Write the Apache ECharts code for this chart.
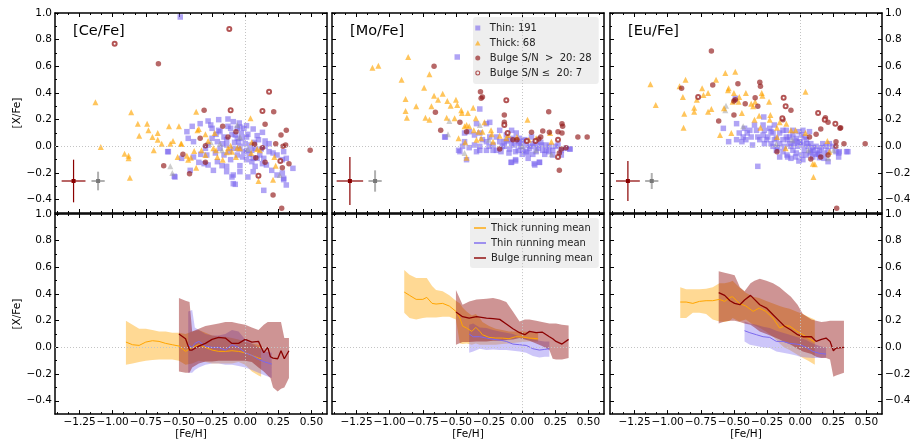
<!DOCTYPE html>
<html><head><meta charset="utf-8">
<script src="https://cdn.jsdelivr.net/npm/echarts@6/dist/echarts.min.js"></script>
<style>html,body{margin:0;padding:0;background:#fff}#c{width:914px;height:441px}</style>
</head><body><div id="c"></div>
<script>
// ---------- labels ----------
const panelTitles = ['[Ce/Fe]', '[Mo/Fe]', '[Eu/Fe]'];
const xTickValues = [-1.25, -1.0, -0.75, -0.5, -0.25, 0.0, 0.25, 0.5];
const yTickValues = [-0.4, -0.2, 0.0, 0.2, 0.4, 0.6, 0.8, 1.0];
const legendTop = ['Thin: 191', 'Thick: 68', 'Bulge S/N  >  20: 28', 'Bulge S/N \u2264  20: 7'];
const legendBottom = ['Thick running mean', 'Thin running mean', 'Bulge running mean'];

// ---------- [Ce/Fe] scatter ----------
const ceThin = [[-0.44,0.11],[-0.40,0.15],[-0.43,0.06],[-0.39,0.035],[-0.34,0.17],[-0.28,0.19],[-0.26,0.16],[-0.20,0.20],[-0.13,0.205],[-0.09,0.185],[-0.045,0.175],[-0.04,0.145],[0.01,0.155],[0.06,0.13],[0.13,0.105],[0.15,0.04],
[-0.28,0.01],[-0.25,0.06],[-0.21,0.035],[-0.19,0.11],[-0.16,0.07],[-0.14,0.05],[-0.11,0.135],[-0.075,0.085],[-0.05,0.035],[-0.025,0.06],[0.01,0.07],[0.04,0.01],[0.075,-0.015],[0.11,-0.065],[0.14,-0.09],[0.18,-0.04],[0.21,-0.05],[0.24,-0.065],[0.29,-0.04],[0.31,-0.09],[0.36,-0.165],[0.28,-0.10],[0.29,-0.24],[0.31,-0.29],[0.28,-0.20],[0.14,-0.33],[-0.075,-0.285],[-0.09,-0.215],[0.02,-0.23],[0.075,-0.15],[-0.04,-0.145],[-0.14,-0.15],[-0.175,-0.145],[-0.21,-0.115],[-0.24,-0.18],[-0.28,-0.14],[-0.31,-0.13],[-0.35,-0.12],[-0.39,-0.08],[-0.415,-0.18],[-0.48,-0.09],[-0.58,-0.04],[-0.53,-0.23],[-0.335,-0.06],[-0.30,-0.015],[-0.16,-0.065],[-0.11,-0.10],[-0.06,-0.065],[-0.01,-0.04],[0.01,-0.10],[0.05,-0.115],[0.09,-0.09],[0.13,-0.13],[0.16,-0.14],[0.20,-0.18],[-0.14,0.01],[-0.19,-0.015],[-0.225,-0.05],[-0.29,-0.065],[-0.09,-0.015],[-0.04,0.0],[0.01,-0.03],[0.10,0.05],[-0.10,-0.23],[-0.14,-0.19],[-0.04,-0.19],[0.06,-0.19],[-0.01,0.135],[-0.06,0.135],[-0.13,0.15],[-0.20,0.12],[-0.25,0.135],[0.24,-0.215],
[-0.05,-0.02],[0.0,0.02],[0.03,-0.06],[-0.08,0.03],[-0.02,-0.08],[0.07,0.03],[0.12,-0.02],[-0.12,-0.04],[-0.17,0.02],[-0.22,0.09],[0.02,0.09],[0.09,0.08],[-0.06,0.06],[-0.10,0.09],[0.05,-0.03],[-0.03,0.10],[0.15,0.0],[0.18,0.02],[0.06,-0.09],
[-0.49,0.97],[-0.585,-0.04],[-0.535,-0.225],[-0.09,-0.28],[0.29,-0.25]];
const ceThick = [[-1.13,0.33],[-1.09,-0.005],[-0.91,-0.055],[-0.88,-0.07],[-0.88,-0.09],[-0.87,-0.235],[-0.86,0.255],[-0.81,0.17],[-0.80,0.08],[-0.74,0.17],[-0.73,0.12],[-0.70,0.07],[-0.69,-0.03],[-0.66,0.10],[-0.66,0.05],[-0.63,0.02],[-0.575,0.15],[-0.565,0.02],[-0.545,0.04],[-0.50,0.15],[-0.485,0.02],[-0.51,-0.08],
[-0.37,0.26],[-0.35,0.13],[-0.30,0.09],[-0.23,0.10],[-0.48,0.02],[-0.44,-0.07],[-0.43,-0.10],[-0.41,-0.085],[-0.385,-0.035],[-0.37,-0.16],[-0.24,-0.015],[-0.22,-0.03],[-0.21,-0.08],[-0.17,-0.10],[-0.14,-0.045],[-0.13,-0.015],[-0.11,0.005],[-0.10,-0.04],[-0.06,-0.01],[-0.04,-0.015],[-0.07,-0.08],[0.04,0.21],[0.05,0.03],[0.045,-0.05],[0.09,-0.02],[0.11,-0.03],[0.22,-0.08],[0.23,-0.145],[0.21,-0.25],[0.10,-0.26],[-0.33,-0.03],[-0.30,-0.065],[-0.36,0.12],[-0.28,0.04]];
const ceBulge = [[-0.655,0.62],[-0.31,0.27],[0.215,0.26],[0.15,0.165],[0.31,0.12],[0.27,0.085],[0.23,0.02],[0.305,0.01],[0.285,0.0],[0.07,0.015],[0.13,-0.01],[-0.17,0.15],[-0.13,0.07],[-0.07,0.11],[-0.34,0.06],[-0.30,0.005],[-0.47,-0.06],[-0.615,-0.145],[-0.42,-0.205],[-0.30,-0.12],[0.08,-0.085],[0.15,-0.12],[0.33,-0.13],[0.28,-0.16],[0.49,-0.03],[0.21,-0.365],[0.275,-0.465]];
const ceBulgeLow = [[-0.985,0.77],[-0.12,0.88],[0.18,0.41],[-0.11,0.27],[0.13,0.265],[0.265,-0.11],[0.10,-0.22]];
const ceOther = [[-0.565,-0.15],[-0.55,-0.20],[-0.06,0.16],[0.26,-0.215],[-0.175,-0.03],[-0.26,0.03],[-0.19,0.02],[-0.04,0.07],[0.02,-0.02]];

// ---------- [Mo/Fe] scatter ----------
const moThin = [[-0.49,0.67],[-0.58,0.07],[-0.08,-0.12],[-0.05,-0.11],[0.09,-0.13],[0.13,-0.12],[0.36,-0.02],
[-0.32,0.28],[-0.585,0.07],[-0.48,-0.03],[-0.42,-0.10],[-0.435,0.10],[-0.40,0.11],[-0.36,0.085],[-0.32,0.10],[-0.27,0.17],[-0.245,0.18],[-0.345,0.17],[-0.435,0.035],[-0.36,0.01],[-0.32,-0.03],[-0.27,0.035],[-0.22,0.01],[-0.195,-0.03],[-0.17,0.035],[-0.135,0.0],[-0.12,0.085],[-0.08,0.12],[-0.07,0.06],[-0.045,0.10],[-0.03,0.035],[-0.01,0.0],[0.005,-0.03],[0.03,0.01],[0.055,-0.015],[0.08,0.02],[0.12,-0.015],[0.155,-0.03],[0.18,0.01],[0.23,-0.03],[0.27,0.01],[0.295,-0.03],[0.33,-0.015],[0.36,-0.02],[0.295,-0.065],[0.23,-0.065],[0.17,-0.06],[0.08,-0.06],[0.045,-0.09],[0.095,-0.14],[0.13,-0.12],[-0.05,-0.10],[-0.085,-0.12],[-0.06,0.01],[-0.095,-0.02],[-0.16,-0.04],[-0.22,-0.03],[-0.27,-0.03],[-0.32,0.0],[-0.40,-0.01],[-0.45,0.0],[-0.47,-0.04],[-0.345,-0.04],[-0.245,0.07],[-0.195,0.07],[-0.17,0.12],[-0.135,0.035],[-0.095,0.05],[-0.02,0.06],[0.02,0.05],[0.07,0.07],[0.105,0.035],[0.145,0.01],[0.205,0.0],[-0.03,-0.03],[0.03,-0.04],[0.105,-0.04],[0.18,-0.03],
[-0.02,0.02],[0.01,0.04],[0.06,0.0],[-0.08,0.02],[-0.12,0.04],[0.1,0.0],[0.14,0.03],[-0.05,-0.04],[0.04,-0.05],[-0.15,0.0],[-0.25,0.0],[-0.3,0.05],[0.2,-0.04],[0.25,0.0],[0.0,-0.06],[-0.1,-0.05]];
const moThick = [[-1.13,0.59],[-1.085,0.605],[-0.86,0.67],[-0.91,0.50],[-0.74,0.44],[-0.70,0.54],[-0.88,0.355],[-0.88,0.265],[-0.87,0.215],[-0.80,0.30],[-0.73,0.215],[-0.70,0.20],[-0.665,0.38],[-0.635,0.35],[-0.60,0.395],[-0.685,0.30],
[-0.565,0.34],[-0.54,0.305],[-0.50,0.35],[-0.49,0.31],[-0.46,0.27],[-0.455,0.25],[-0.41,0.25],[-0.51,0.21],[-0.57,0.215],[-0.37,0.29],[-0.35,0.21],[-0.435,0.15],[-0.40,0.15],[-0.365,0.12],[-0.33,0.11],[-0.285,0.18],[-0.30,0.11],[-0.235,0.12],[-0.23,0.09],[-0.31,0.06],[-0.345,0.05],[-0.43,0.03],[-0.48,0.06],[-0.42,-0.085],[-0.22,0.035],[-0.17,0.08],[-0.12,0.06],[-0.105,0.085],[-0.04,0.07],[0.04,0.20],[0.05,0.05],[0.105,0.06],[0.21,0.10],[0.22,0.035],[-0.42,0.16]];
const moBulge = [[-0.665,0.60],[-0.315,0.41],[-0.30,0.37],[-0.31,0.36],[-0.655,0.255],[-0.615,0.12],[-0.47,0.18],[-0.42,0.11],[-0.135,0.235],[-0.135,0.18],[-0.07,0.05],[-0.04,0.05],[-0.17,-0.02],[0.07,0.105],[0.125,0.055],[0.14,0.07],[0.155,0.115],[0.20,0.26],[0.205,0.105],[0.27,0.11],[0.30,0.17],[0.305,0.15],[0.30,0.10],[0.295,-0.02],[0.28,-0.05],[0.33,-0.01],[0.42,0.07],[0.49,0.07],[0.28,-0.18]];
const moBulgeLow = [[-0.12,0.345],[-0.135,0.16],[-0.11,0.10],[0.035,0.04],[0.10,0.04],[0.27,0.05],[0.27,-0.08]];
const moOther = [[-0.55,0.19],[-0.56,0.09],[-0.435,-0.05],[-0.32,0.16],[0.105,-0.03],[0.22,-0.06],[-0.25,0.05],[0.0,0.0]];

// ---------- [Eu/Fe] scatter ----------
const euThin = [[-0.49,0.36],[-0.48,0.17],[-0.58,0.135],[-0.54,0.035],[-0.44,0.035],[-0.37,0.07],[-0.36,0.01],[-0.32,-0.15],[-0.275,0.22],[-0.345,0.16],[-0.28,0.085],[-0.23,0.135],[-0.205,0.10],[-0.255,0.05],[-0.38,0.12],[-0.42,0.135],[-0.46,0.10],[-0.43,0.07],[-0.32,0.07],[-0.22,0.02],[-0.195,0.05],[-0.155,0.10],[-0.13,0.12],[-0.105,0.07],[-0.095,0.05],[-0.055,0.085],[-0.03,0.06],[-0.01,0.11],[0.01,0.085],[-0.005,0.035],[0.02,0.01],[0.045,0.05],[0.06,0.0],[0.08,0.02],[0.095,-0.03],[0.12,0.0],[0.145,-0.03],[0.16,-0.01],[0.18,-0.05],[0.21,-0.03],[0.245,0.0],[0.295,-0.04],[0.29,-0.08],[0.35,-0.04],[0.145,-0.085],[0.115,-0.06],[-0.03,-0.05],[-0.055,-0.03],[-0.10,-0.065],[-0.13,-0.04],[-0.155,-0.08],[-0.17,-0.01],[-0.155,0.02],[-0.13,0.05],[-0.08,0.02],[-0.07,0.0],[-0.045,0.02],[-0.02,0.0],[0.03,-0.03],[0.01,-0.065],[0.045,-0.065],[0.02,-0.10],[-0.01,-0.11],[0.075,-0.05],[0.095,-0.08],[0.13,-0.05],[0.17,0.02],[0.195,0.0],[0.22,0.02],[-0.055,0.12],[0.02,0.12],[0.07,0.11],[-0.22,0.11],[-0.27,0.12],[-0.33,0.12],[-0.40,0.10],[-0.41,0.05],[-0.48,0.05],[-0.105,0.12],[-0.08,0.07],[-0.18,-0.03],[-0.205,0.0],[-0.27,0.02],[-0.305,0.05],[-0.245,0.07],[-0.035,-0.08],[-0.07,-0.09],[-0.095,-0.08],[0.18,-0.09],[0.21,-0.115],[0.29,-0.05],[0.27,-0.04],[-0.28,0.16],[-0.195,0.16],[0.36,-0.04],
[0.0,0.03],[0.05,0.02],[0.1,-0.01],[-0.04,0.04],[0.03,0.07],[0.08,-0.04],[-0.12,0.0],[0.14,-0.06],[-0.18,0.06]];
const euThick = [[-1.13,0.465],[-1.09,0.31],[-0.88,0.14],[-0.875,0.245],[-0.885,0.37],[-0.865,0.50],[-0.91,0.45],[0.10,-0.23],[0.11,-0.135],
[-0.80,0.29],[-0.80,0.26],[-0.78,0.35],[-0.74,0.435],[-0.73,0.385],[-0.695,0.40],[-0.695,0.26],[-0.67,0.28],[-0.635,0.50],[-0.605,0.085],[-0.575,0.285],[-0.565,0.55],[-0.54,0.435],[-0.545,0.42],[-0.52,0.10],[-0.51,0.335],[-0.49,0.56],[-0.50,0.40],[-0.46,0.37],[-0.465,0.335],[-0.44,0.25],[-0.41,0.40],[-0.37,0.32],[-0.355,0.30],[-0.34,0.335],[-0.345,0.20],[-0.31,0.23],[-0.29,0.40],[-0.285,0.38],[-0.235,0.335],[-0.225,0.235],[-0.23,0.20],[-0.30,0.14],[-0.175,0.14],[-0.155,0.18],[-0.105,0.17],[-0.07,0.12],[-0.035,0.12],[0.04,0.41],[0.04,0.10],[0.095,-0.13],[0.205,0.04],[0.22,-0.04],[-0.11,-0.015],[-0.175,0.07]];
const euBulge = [[-0.67,0.715],[-0.895,0.435],[-0.66,0.46],[-0.47,0.47],[-0.615,0.19],[-0.50,0.34],[-0.49,0.35],[-0.415,0.32],[-0.34,0.365],[-0.32,0.30],[-0.305,0.48],[-0.30,0.45],[-0.50,0.235],[-0.13,0.20],[-0.07,0.27],[0.07,0.07],[0.12,0.09],[0.155,0.13],[0.19,0.215],[0.21,0.18],[0.30,0.135],[0.305,0.14],[0.27,0.035],[0.33,0.02],[0.49,0.02],[-0.175,-0.04],[0.08,-0.095],[0.155,-0.08],[0.21,-0.065],[0.27,0.0],[0.275,-0.465]];
const euBulgeLow = [[-0.77,0.37],[-0.125,0.365],[-0.11,0.30],[-0.135,0.21],[0.135,0.25],[0.185,0.20],[0.265,0.17]];
const euOther = [[-0.56,0.305],[-0.565,0.27],[-0.18,0.02],[-0.06,0.05],[0.06,-0.03],[0.21,-0.09],[0.25,-0.03],[-0.43,0.15]];

// ---------- typical error bars [x, y, xerr, yerr] ----------
const errBulge = [[-1.295,-0.26,0.09,0.16],[-1.30,-0.26,0.10,0.18],[-1.30,-0.26,0.09,0.15]];
const errDisk = [[-1.11,-0.26,0.05,0.07],[-1.11,-0.26,0.05,0.08],[-1.12,-0.26,0.05,0.06]];

// ---------- running means: [Ce/Fe] ----------
const ceThickX = [-0.90,-0.85,-0.80,-0.75,-0.70,-0.65,-0.60,-0.55,-0.50,-0.45,-0.40,-0.35,-0.30,-0.25,-0.20,-0.15,-0.10,-0.05,0.00,0.05,0.10,0.12];
const ceThickMean = [0.04,0.02,0.015,0.04,0.05,0.045,0.03,0.02,0.01,-0.03,0.0,0.02,0.0,-0.02,-0.03,-0.03,-0.025,-0.03,-0.04,-0.06,-0.08,-0.085];
const ceThickHi = [0.20,0.17,0.14,0.14,0.13,0.12,0.12,0.11,0.11,0.10,0.12,0.13,0.11,0.09,0.08,0.08,0.07,0.06,0.04,0.03,0.02,0.02];
const ceThickLo = [-0.13,-0.12,-0.11,-0.10,-0.095,-0.09,-0.09,-0.09,-0.10,-0.13,-0.12,-0.10,-0.11,-0.12,-0.12,-0.12,-0.12,-0.11,-0.13,-0.18,-0.21,-0.22];
const ceThinX = [-0.43,-0.40,-0.38,-0.35,-0.30,-0.25,-0.20,-0.15,-0.10,-0.05,0.00,0.05,0.10,0.15,0.20];
const ceThinMean = [0.02,0.0,0.03,0.045,0.01,0.0,0.0,-0.02,0.02,0.0,-0.04,-0.06,-0.09,-0.11,-0.125];
const ceThinHi = [0.27,0.28,0.15,0.13,0.10,0.09,0.09,0.10,0.13,0.12,0.06,0.03,0.0,-0.03,-0.04];
const ceThinLo = [-0.19,-0.19,-0.17,-0.15,-0.13,-0.12,-0.12,-0.13,-0.13,-0.14,-0.15,-0.17,-0.19,-0.21,-0.23];
const ceBulgeX = [-0.50,-0.45,-0.42,-0.40,-0.35,-0.30,-0.25,-0.20,-0.15,-0.10,-0.05,0.00,0.05,0.10,0.14,0.17,0.19,0.21,0.245,0.27,0.295,0.33];
const ceBulgeMean = [0.10,0.065,-0.02,-0.02,0.01,0.03,0.06,0.075,0.07,0.03,0.03,0.06,0.04,0.045,-0.04,0.0,-0.07,-0.08,-0.085,-0.025,-0.085,-0.025];
const ceBulgeHi = [0.37,0.35,0.34,0.12,0.14,0.16,0.17,0.18,0.19,0.19,0.18,0.17,0.15,0.13,0.17,0.19,0.19,0.19,0.19,0.19,0.07,0.07];
const ceBulgeLo = [-0.18,-0.19,-0.19,-0.15,-0.12,-0.105,-0.105,-0.10,-0.10,-0.10,-0.10,-0.10,-0.11,-0.15,-0.18,-0.21,-0.23,-0.30,-0.33,-0.31,-0.30,-0.23];

// ---------- running means: [Mo/Fe] ----------
const moThickX = [-0.89,-0.85,-0.80,-0.75,-0.72,-0.68,-0.65,-0.60,-0.55,-0.50,-0.47,-0.45,-0.42,-0.38,-0.35,-0.32,-0.30,-0.25,-0.20,-0.15,-0.10,-0.05,0.00,0.05,0.12];
const moThickMean = [0.415,0.39,0.36,0.36,0.375,0.33,0.325,0.33,0.31,0.27,0.22,0.16,0.145,0.12,0.15,0.12,0.095,0.075,0.07,0.07,0.065,0.08,0.078,0.07,0.065];
const moThickHi = [0.58,0.545,0.52,0.52,0.52,0.46,0.43,0.42,0.39,0.35,0.33,0.30,0.27,0.24,0.25,0.22,0.19,0.16,0.14,0.13,0.12,0.12,0.12,0.115,0.11];
const moThickLo = [0.26,0.22,0.21,0.22,0.225,0.225,0.225,0.23,0.23,0.21,0.03,0.025,0.03,0.02,0.03,0.02,0.02,0.02,0.02,0.025,0.03,0.035,0.04,0.045,0.045];
const moThinX = [-0.40,-0.37,-0.32,-0.27,-0.22,-0.17,-0.12,-0.07,-0.02,0.03,0.08,0.13,0.17,0.205];
const moThinMean = [0.10,0.08,0.08,0.07,0.06,0.055,0.045,0.025,0.02,0.015,-0.01,-0.02,-0.015,-0.01];
const moThinHi = [0.17,0.18,0.15,0.145,0.13,0.12,0.11,0.10,0.08,0.07,0.06,0.05,0.045,0.045];
const moThinLo = [-0.04,-0.03,-0.01,-0.02,-0.015,-0.02,-0.02,-0.025,-0.03,-0.04,-0.065,-0.075,-0.07,-0.07];
const moBulgeX = [-0.50,-0.45,-0.40,-0.345,-0.27,-0.22,-0.17,-0.12,-0.07,-0.02,0.02,0.055,0.105,0.15,0.205,0.23,0.255,0.30,0.35];
const moBulgeMean = [0.265,0.23,0.22,0.23,0.22,0.215,0.21,0.175,0.14,0.11,0.095,0.12,0.11,0.115,0.08,0.065,0.045,0.025,0.06];
const moBulgeHi = [0.43,0.32,0.345,0.36,0.365,0.37,0.36,0.34,0.27,0.195,0.21,0.21,0.20,0.19,0.18,0.18,0.18,0.17,0.165];
const moBulgeLo = [0.02,0.04,0.04,0.045,0.045,0.05,0.05,0.055,0.06,0.07,0.06,0.05,0.03,0.01,-0.02,-0.085,-0.09,-0.09,-0.08];

// ---------- running means: [Eu/Fe] ----------
const euThickX = [-0.905,-0.86,-0.81,-0.76,-0.71,-0.66,-0.61,-0.57,-0.53,-0.51,-0.46,-0.41,-0.355,-0.31,-0.26,-0.205,-0.155,-0.12,-0.08,-0.03,0.02,0.06,0.11];
const euThickMean = [0.34,0.34,0.33,0.345,0.35,0.35,0.36,0.345,0.375,0.38,0.33,0.31,0.27,0.295,0.27,0.22,0.145,0.16,0.16,0.125,0.095,0.07,0.04];
const euThickHi = [0.45,0.435,0.435,0.435,0.44,0.45,0.48,0.48,0.49,0.50,0.45,0.41,0.38,0.37,0.35,0.33,0.31,0.30,0.29,0.27,0.25,0.23,0.21];
const euThickLo = [0.22,0.22,0.26,0.26,0.25,0.21,0.195,0.19,0.20,0.22,0.195,0.21,0.17,0.15,0.12,0.08,0.03,0.0,-0.02,-0.05,-0.08,-0.10,-0.13];
const euThinX = [-0.42,-0.38,-0.33,-0.28,-0.23,-0.18,-0.13,-0.08,-0.03,0.0,0.045,0.095,0.145,0.195];
const euThinMean = [0.125,0.11,0.095,0.08,0.075,0.045,0.045,0.03,0.025,0.02,0.0,-0.03,-0.045,-0.05];
const euThinHi = [0.195,0.18,0.17,0.155,0.145,0.125,0.11,0.095,0.08,0.07,0.055,0.03,0.01,0.0];
const euThinLo = [0.045,0.02,0.01,0.0,-0.005,-0.03,-0.04,-0.05,-0.06,-0.07,-0.075,-0.08,-0.08,-0.075];
const euBulgeX = [-0.615,-0.57,-0.53,-0.495,-0.455,-0.42,-0.375,-0.345,-0.305,-0.255,-0.205,-0.155,-0.12,-0.07,-0.02,0.02,0.085,0.12,0.16,0.195,0.225,0.25,0.27,0.33];
const euBulgeMean = [0.41,0.39,0.35,0.33,0.32,0.355,0.39,0.36,0.32,0.295,0.245,0.195,0.16,0.13,0.095,0.08,0.08,0.045,0.06,0.07,0.045,-0.025,-0.005,0.0];
const euBulgeHi = [0.57,0.56,0.55,0.54,0.45,0.42,0.48,0.50,0.515,0.50,0.48,0.45,0.42,0.38,0.32,0.25,0.21,0.20,0.19,0.195,0.20,0.20,0.20,0.20];
const euBulgeLo = [0.18,0.195,0.20,0.20,0.19,0.18,0.17,0.15,0.12,0.10,0.08,0.06,0.04,0.02,-0.01,-0.03,-0.05,-0.07,-0.08,-0.08,-0.09,-0.22,-0.21,-0.19];

// ---------- build ----------
const FONT = 'DejaVu Sans';
const colLeft = [55, 332, 610], colW = 272;
const rowTop = [13, 214], rowH = [200, 201];
const XMIN = -1.435, XMAX = 0.617, YMIN = -0.5, YMAX = 1.0;
const C_THIN = 'rgba(123,104,238,0.75)', C_THICK = 'rgba(255,165,0,0.8)', C_BULGE = 'rgba(145,25,25,0.82)', C_OTHER = 'rgba(150,150,150,0.6)';
const fmt = (v, d) => (v < -1e-9 ? '\u2212' : '') + Math.abs(v).toFixed(d);

const xMinor = [], yMinor = [];
for (let k = -17; k <= 7; k++) { const v = k * 0.25 / 3; if (Math.abs(Math.round(v * 4) - v * 4) > 1e-6 && v > XMIN && v < XMAX) xMinor.push(+v.toFixed(5)); }
for (let k = -5; k <= 10; k++) { const v = k * 0.1; if (Math.abs(Math.round(v * 5) - v * 5) > 1e-6 && v > YMIN + 1e-6 && v < YMAX) yMinor.push(+v.toFixed(5)); }

const grids = [], xAxes = [], yAxes = [], series = [], titles = [];
function axis(dim, gi, pos, values, len, showLine, showLabel, extra) {
  const a = {
    type: 'value', gridIndex: gi, position: pos,
    min: dim === 'x' ? XMIN : YMIN, max: dim === 'x' ? XMAX : YMAX,
    axisLine: { show: showLine, onZero: false, lineStyle: { color: '#000', width: 1.5 } },
    axisTick: { show: true, inside: true, length: len, customValues: values, lineStyle: { color: '#000', width: 1 } },
    axisLabel: { show: showLabel, customValues: values, fontFamily: FONT, fontSize: 10.5, color: '#000', margin: 3,
      formatter: v => fmt(v, dim === 'x' ? 2 : 1) },
    splitLine: { show: false }, minorTick: { show: false }
  };
  return Object.assign(a, extra || {});
}

const scatterSets = [
  [ceThin, ceOther, ceThick, ceBulge, ceBulgeLow],
  [moThin, moOther, moThick, moBulge, moBulgeLow],
  [euThin, euOther, euThick, euBulge, euBulgeLow]];
const runSets = [
  [[ceThickX, ceThickMean, ceThickHi, ceThickLo], [ceThinX, ceThinMean, ceThinHi, ceThinLo], [ceBulgeX, ceBulgeMean, ceBulgeHi, ceBulgeLo]],
  [[moThickX, moThickMean, moThickHi, moThickLo], [moThinX, moThinMean, moThinHi, moThinLo], [moBulgeX, moBulgeMean, moBulgeHi, moBulgeLo]],
  [[euThickX, euThickMean, euThickHi, euThickLo], [euThinX, euThinMean, euThinHi, euThinLo], [euBulgeX, euBulgeMean, euBulgeHi, euBulgeLo]]];

function zeroLines(ax) {
  return { type: 'scatter', xAxisIndex: ax, yAxisIndex: ax, data: [], silent: true, z: 0,
    markLine: { silent: true, symbol: 'none', animation: false, label: { show: false },
      lineStyle: { color: '#c4c4c4', type: [1, 2], width: 1 }, data: [{ yAxis: 0 }, { xAxis: 0 }] } };
}
function bandSeries(ax, xs, lo, hi, color, z) {
  return { type: 'custom', xAxisIndex: ax, yAxisIndex: ax, silent: true, z: z,
    data: xs.map((x, i) => [x, lo[i], hi[i]]), encode: { x: 0, y: [1, 2] },
    renderItem: (params, api) => {
      if (params.dataIndex !== 0) return null;
      const pts = [];
      for (let i = 0; i < xs.length; i++) pts.push(api.coord([xs[i], hi[i]]));
      for (let i = xs.length - 1; i >= 0; i--) pts.push(api.coord([xs[i], lo[i]]));
      return { type: 'polygon', shape: { points: pts }, style: { fill: color } };
    } };
}
function errSeries(ax, d, color, centerColor, lw) {
  return { type: 'custom', xAxisIndex: ax, yAxisIndex: ax, silent: true, z: 5, data: [d],
    renderItem: (params, api) => {
      const x = api.value(0), y = api.value(1), dx = api.value(2), dy = api.value(3);
      const a = api.coord([x - dx, y]), b = api.coord([x + dx, y]), c = api.coord([x, y - dy]), e = api.coord([x, y + dy]), m = api.coord([x, y]);
      return { type: 'group', children: [
        { type: 'line', shape: { x1: a[0], y1: a[1], x2: b[0], y2: b[1] }, style: { stroke: color, lineWidth: lw } },
        { type: 'line', shape: { x1: c[0], y1: c[1], x2: e[0], y2: e[1] }, style: { stroke: color, lineWidth: lw } },
        { type: 'rect', shape: { x: m[0] - 2, y: m[1] - 2, width: 4, height: 4 }, style: { fill: centerColor } }] };
    } };
}

for (let r = 0; r < 2; r++) {
  for (let c = 0; c < 3; c++) {
    const gi = r * 3 + c;
    grids.push({ left: colLeft[c], top: rowTop[r], width: colW, height: rowH[r], containLabel: false });
    const base = gi * 4;
    xAxes.push(axis('x', gi, 'bottom', xTickValues, 4, true, r === 1,
      r === 1 ? { name: '[Fe/H]', nameLocation: 'middle', nameGap: 14, nameTextStyle: { fontFamily: FONT, fontSize: 10.5, color: '#000' } } : {}));
    xAxes.push(axis('x', gi, 'top', xTickValues, 4, true, false));
    xAxes.push(axis('x', gi, 'bottom', xMinor, 2, false, false));
    xAxes.push(axis('x', gi, 'top', xMinor, 2, false, false));
    yAxes.push(axis('y', gi, 'left', yTickValues, 4, true, c === 0,
      c === 0 ? { name: '[X/Fe]', nameLocation: 'middle', nameGap: 31, nameRotate: 90, nameTextStyle: { fontFamily: FONT, fontSize: 10.5, color: '#000' } } : {}));
    yAxes.push(axis('y', gi, 'right', yTickValues, 4, true, c === 2));
    yAxes.push(axis('y', gi, 'left', yMinor, 2, false, false));
    yAxes.push(axis('y', gi, 'right', yMinor, 2, false, false));

    series.push(zeroLines(base));
    if (r === 0) {
      titles.push({ text: panelTitles[c], left: colLeft[c] + 13, top: 19,
        textStyle: { fontFamily: FONT, fontSize: 14.5, fontWeight: 'normal', color: '#000' } });
      const [thin, other, thick, bulge, low] = scatterSets[c];
      series.push({ name: legendTop[0], type: 'scatter', xAxisIndex: base, yAxisIndex: base, data: thin, symbol: 'rect', symbolSize: 5.5, itemStyle: { color: C_THIN }, z: 2 });
      series.push({ name: 'other', type: 'scatter', xAxisIndex: base, yAxisIndex: base, data: other, symbol: 'triangle', symbolSize: 6, itemStyle: { color: C_OTHER }, z: 2 });
      series.push({ name: legendTop[1], type: 'scatter', xAxisIndex: base, yAxisIndex: base, data: thick, symbol: 'triangle', symbolSize: 6, itemStyle: { color: C_THICK }, z: 3 });
      series.push({ name: legendTop[2], type: 'scatter', xAxisIndex: base, yAxisIndex: base, data: bulge, symbol: 'circle', symbolSize: 5.5, itemStyle: { color: C_BULGE }, z: 4 });
      series.push({ name: legendTop[3], type: 'scatter', xAxisIndex: base, yAxisIndex: base, data: low, symbol: 'emptyCircle', symbolSize: 4, itemStyle: { color: '#a02a2a', borderWidth: 0.9 }, z: 4 });
      series.push(errSeries(base, errBulge[c], '#8b0000', '#8b0000', 1.2));
      series.push(errSeries(base, errDisk[c], 'rgba(150,150,150,0.75)', '#777', 2));
    } else {
      const sets = runSets[c];
      series.push(bandSeries(base, sets[0][0], sets[0][3], sets[0][2], 'rgba(255,165,0,0.42)', 1));
      series.push(bandSeries(base, sets[1][0], sets[1][3], sets[1][2], 'rgba(123,104,238,0.38)', 1));
      series.push(bandSeries(base, sets[2][0], sets[2][3], sets[2][2], 'rgba(139,0,0,0.42)', 1));
      const lc = ['#ffa500', '#7b68ee', '#8b0000'], lw = [1, 1, 1.3];
      for (let k = 0; k < 3; k++) {
        series.push({ name: legendBottom[k], type: 'line', xAxisIndex: base, yAxisIndex: base, z: 3,
          data: sets[k][0].map((x, i) => [x, sets[k][1][i]]), symbol: 'none', showSymbol: false,
          lineStyle: { color: lc[k], width: lw[k] }, itemStyle: { color: lc[k] } });
      }
    }
  }
}

const ICON_SQ = 'path://M0,0H10V10H0Z';
const ICON_TRI = 'path://M5,0L10,9H0Z';
const ICON_RING = 'path://M5,0A5,5 0 1,1 4.99,0ZM5,2.2A2.8,2.8 0 1,0 5.01,2.2Z';
const ICON_LINE = 'path://M0,0H12V1.4H0Z';
const option = {
  animation: false,
  backgroundColor: '#fff',
  title: titles,
  grid: grids, xAxis: xAxes, yAxis: yAxes, series: series,
  legend: [
    { left: 473, top: 17, orient: 'vertical', backgroundColor: 'rgba(236,236,236,0.9)', borderRadius: 3,
      padding: [5, 7, 5, 2], itemWidth: 14, itemHeight: 5, itemGap: 3, selectedMode: false, symbolKeepAspect: true,
      textStyle: { fontFamily: FONT, fontSize: 10, color: '#222', lineHeight: 12 },
      data: [{ name: legendTop[0], icon: ICON_SQ }, { name: legendTop[1], icon: ICON_TRI }, { name: legendTop[2], icon: 'circle' },
             { name: legendTop[3], icon: ICON_RING, itemStyle: { color: '#a02a2a', borderWidth: 0 } }] },
    { left: 470, top: 218, orient: 'vertical', backgroundColor: 'rgba(236,236,236,0.9)', borderRadius: 3,
      padding: [4, 6, 4, 4], itemWidth: 12, itemHeight: 8, itemGap: 3, selectedMode: false, symbolKeepAspect: true,
      textStyle: { fontFamily: FONT, fontSize: 10, color: '#222', lineHeight: 12 },
      data: legendBottom.map(n => ({ name: n, icon: ICON_LINE })) }
  ]
};
const chart = echarts.init(document.getElementById('c'), null, { renderer: 'canvas' });
chart.setOption(option);
</script>
</body></html>
